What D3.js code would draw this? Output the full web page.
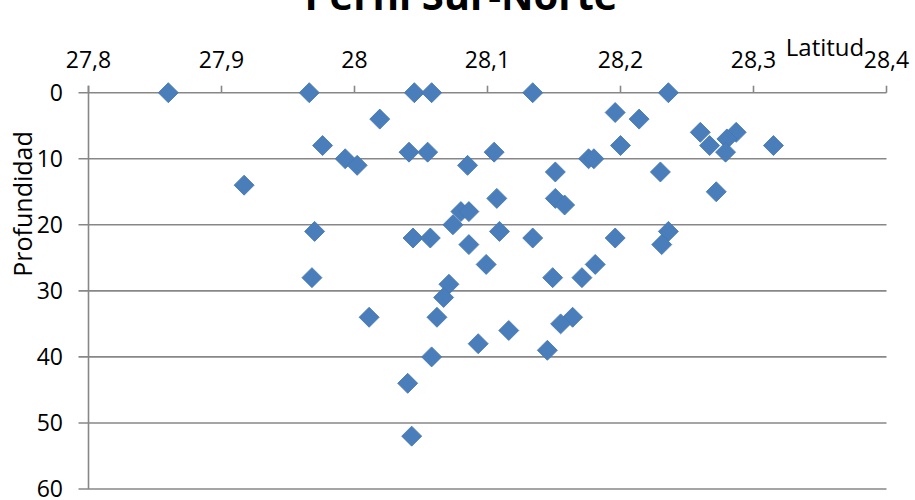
<!DOCTYPE html>
<html>
<head>
<meta charset="utf-8">
<script src="https://d3js.org/d3.v7.min.js"></script>
<style>
	body { margin: 0; background: #fff; }
	text { font-family: "Open Sans", "Noto Sans", sans-serif; fill: #000; }
</style>
</head>
<body>
<div id="chart"></div>
<script>

/*
 * Data: latitude (x) and depth (y).
 */
var latitud = [27.86, 27.966, 28.045, 28.058, 28.134, 28.236,
	28.196, 28.019, 28.214, 28.260, 28.287, 28.280,
	27.976, 28.200, 28.267, 28.315, 28.041, 28.055, 28.105, 28.279,
	27.993, 28.176, 28.180, 28.002, 28.085, 28.151, 28.230,
	27.917, 28.272, 28.107, 28.151, 28.158, 28.080, 28.086, 28.074,
	27.970, 28.109, 28.236, 28.044, 28.057, 28.134, 28.196, 28.086, 28.231,
	28.099, 28.181, 27.968, 28.149, 28.171, 28.071, 28.067,
	28.011, 28.062, 28.164, 28.155, 28.116, 28.093, 28.145, 28.058, 28.040, 28.043];

var profundidad = [0, 0, 0, 0, 0, 0,
	3, 4, 4, 6, 6, 7,
	8, 8, 8, 8, 9, 9, 9, 9,
	10, 10, 10, 11, 11, 12, 12,
	14, 15, 16, 16, 17, 18, 18, 20,
	21, 21, 21, 22, 22, 22, 22, 23, 23,
	26, 26, 28, 28, 28, 29, 31,
	34, 34, 34, 35, 36, 38, 39, 40, 44, 52];

var xTicks = [27.8, 27.9, 28.0, 28.1, 28.2, 28.3, 28.4];
var yTicks = [0, 10, 20, 30, 40, 50, 60];

var title = "Perfil Sur-Norte",
	xTitle = "Latitud",
	yTitle = "Profundidad";

/*
 * Bounds of component.
 */
var width = 915,
	height = 500,
	plotLeft = 88.5,
	plotRight = 886.5,
	plotTop = 92.7,
	plotBottom = 489;

var svg = d3.select("#chart").append("svg")
	.attr("width", width)
	.attr("height", height);

var x = d3.scaleLinear().domain([27.8, 28.4]).range([plotLeft, plotRight]);
var y = d3.scaleLinear().domain([0, 60]).range([plotTop, plotBottom]);

var fmt = function(d) { return d3.format(".1~f")(d).replace(".", ","); };
var grey = "#878787";

/*
 * Horizontal gridlines.
 */
svg.append("g").selectAll("line")
	.data(yTicks)
	.enter().append("line")
	.attr("x1", plotLeft - 10)
	.attr("x2", plotRight)
	.attr("y1", function(d) { return y(d); })
	.attr("y2", function(d) { return y(d); })
	.attr("stroke", grey)
	.attr("stroke-width", 1.6);

/*
 * Vertical axis line.
 */
svg.append("line")
	.attr("x1", plotLeft).attr("x2", plotLeft)
	.attr("y1", plotTop - 7).attr("y2", plotBottom)
	.attr("stroke", grey)
	.attr("stroke-width", 1.6);

/*
 * Top axis ticks (x).
 */
svg.append("g").selectAll("line")
	.data(xTicks)
	.enter().append("line")
	.attr("x1", function(d) { return x(d); })
	.attr("x2", function(d) { return x(d); })
	.attr("y1", plotTop - 7)
	.attr("y2", plotTop)
	.attr("stroke", grey)
	.attr("stroke-width", 1.6);

svg.append("g").selectAll("text")
	.data(xTicks)
	.enter().append("text")
	.attr("x", function(d) { return x(d); })
	.attr("y", 68)
	.attr("text-anchor", "middle")
	.style("font-size", "23px")
	.text(fmt);

svg.append("g").selectAll("text")
	.data(yTicks)
	.enter().append("text")
	.attr("x", 63)
	.attr("y", function(d) { return y(d); })
	.attr("dy", "0.36em")
	.attr("text-anchor", "end")
	.style("font-size", "23px")
	.text(function(d) { return d; });

/*
 * Titles.
 */
svg.append("text")
	.attr("x", 461)
	.attr("y", 10)
	.attr("text-anchor", "middle")
	.style("font-size", "40px")
	.style("font-weight", "bold")
	.text(title);

svg.append("text")
	.attr("x", 825)
	.attr("y", 56)
	.attr("text-anchor", "middle")
	.style("font-size", "24px")
	.text(xTitle);

svg.append("text")
	.attr("transform", "translate(32,204) rotate(-90)")
	.attr("text-anchor", "middle")
	.style("font-size", "25px")
	.text(yTitle);

/*
 * Diamond markers.
 */
var diamond = d3.symbol().type(d3.symbolSquare).size(200);

svg.append("g").selectAll("path")
	.data(latitud.map(function(d, i) { return { x: d, y: profundidad[i] }; }))
	.enter().append("path")
	.attr("d", diamond)
	.attr("transform", function(d) { return "translate(" + x(d.x) + "," + y(d.y) + ") rotate(45)"; })
	.attr("fill", "#4a7ebb")
	.attr("stroke", "#4577b3")
	.attr("stroke-width", 0.8);

</script>
</body>
</html>
